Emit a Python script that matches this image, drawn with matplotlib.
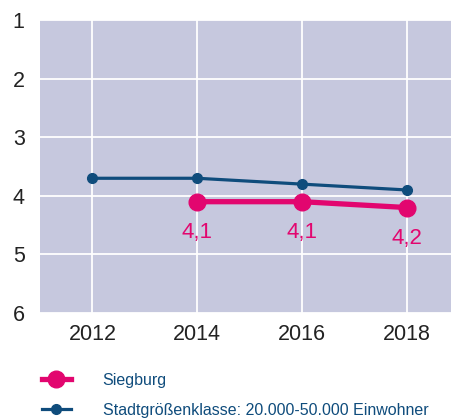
import matplotlib.pyplot as plt

plt.rcParams['font.family'] = ['Liberation Sans', 'DejaVu Sans']

#-----------------------------------------------------#

years_city = [2014, 2016, 2018]
siegburg = [4.1, 4.1, 4.2]
siegburg_labels = ['4,1', '4,1', '4,2']

years_class = [2012, 2014, 2016, 2018]
stadtklasse = [3.7, 3.7, 3.8, 3.9]

x_ticks = [2012, 2014, 2016, 2018]
y_ticks = [1, 2, 3, 4, 5, 6]

PINK = '#e2066f'
BLUE = '#0f4c7c'
BG = '#c6c8de'

#-----------------------------------------------------#

fig = plt.figure(figsize=(4.52, 4.19), dpi=100)
ax = fig.add_axes([0.0885, 0.253, 0.9115, 0.699])
ax.set_facecolor(BG)

ax.plot(years_class, stadtklasse, color=BLUE, lw=2.3, marker='o', ms=7,
        label='Stadtgrößenklasse: 20.000-50.000 Einwohner', zorder=3)
ax.plot(years_city, siegburg, color=PINK, lw=3.8, marker='o', ms=12,
        label='Siegburg', zorder=4)

for x, y, txt in zip(years_city, siegburg, siegburg_labels):
    ax.annotate(txt, (x, y), xytext=(0, -22), textcoords='offset points',
                ha='center', va='center', color=PINK, fontsize=16)

ax.set_xlim(2011, 2018.86)
ax.set_ylim(6, 1)
ax.set_xticks(x_ticks)
ax.set_yticks(y_ticks)
ax.tick_params(length=0, labelsize=15.5, labelcolor='#222222')
ax.tick_params(axis='x', pad=8)
ax.tick_params(axis='y', pad=11)
ax.grid(color='white', lw=1.3)
ax.set_axisbelow(True)
for s in ax.spines.values():
    s.set_visible(False)

handles, labels = ax.get_legend_handles_labels()
fig.legend(handles[::-1], labels[::-1], loc='upper left', bbox_to_anchor=(0.068, 0.137),
           frameon=False, fontsize=11.5, labelcolor=BLUE, handlelength=1.8,
           handletextpad=2.0, labelspacing=0.95, borderaxespad=0.3)

plt.savefig('out.png', dpi=100)
